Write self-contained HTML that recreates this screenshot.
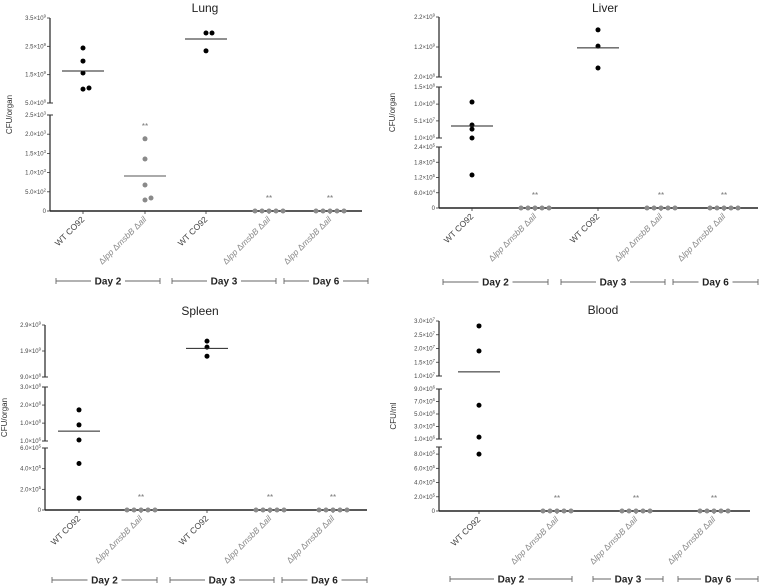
<!DOCTYPE html>
<html><head><meta charset="utf-8">
<style>
html,body{margin:0;padding:0;background:#fff;}
svg{display:block;font-family:"Liberation Sans",sans-serif;}
</style></head>
<body>
<svg id="chart" width="760" height="587" viewBox="0 0 760 587" xmlns="http://www.w3.org/2000/svg"></svg>
<script>
// ---------- DATA ----------
const lungCategories = ["WT CO92","mut","WT CO92","mut","mut"];
const lungValues = [[2.44e9,1.98e9,1.56e9,0.99e9,1.03e9],[1880,1354,677,286,338],[2.97e9,2.97e9,2.34e9],[0,0,0,0,0],[0,0,0,0,0]];
const lungMeans = [1.63e9,911,2.76e9,null,null];
const lungTickLabels = [["3.5×10^9","2.5×10^9","1.5×10^9","5.0×10^8"],["2.5×10^3","2.0×10^3","1.5×10^3","1.0×10^3","5.0×10^2","0"]];
const lungTickValues = [[3.5e9,2.5e9,1.5e9,5e8],[2500,2000,1500,1000,500,0]];

const liverCategories = ["WT CO92","mut","WT CO92","mut","mut"];
const liverValues = [[1.06e8,3.9e7,2.7e7,1.0e6,1.3e5],[0,0,0,0,0],[1.77e9,1.23e9,5.0e8],[0,0,0,0,0],[0,0,0,0,0]];
const liverMeans = [3.6e7,null,1.17e9,null,null];
const liverTickLabels = [["2.2×10^9","1.2×10^9","2.0×10^8"],["1.5×10^8","1.0×10^8","5.1×10^7","1.0×10^6"],["2.4×10^5","1.8×10^5","1.2×10^5","6.0×10^4","0"]];
const liverTickValues = [[2.2e9,1.2e9,2e8],[1.5e8,1.0e8,5.1e7,1e6],[2.4e5,1.8e5,1.2e5,6e4,0]];

const spleenCategories = ["WT CO92","mut","WT CO92","mut","mut"];
const spleenValues = [[1.73e8,9.0e7,6.5e6,4.5e5,1.15e5],[0,0,0,0,0],[2.28e9,2.05e9,1.7e9],[0,0,0,0,0],[0,0,0,0,0]];
const spleenMeans = [5.6e7,null,2.0e9,null,null];
const spleenTickLabels = [["2.9×10^9","1.9×10^9","9.0×10^8"],["3.0×10^8","2.0×10^8","1.0×10^8","1.0×10^6"],["6.0×10^5","4.0×10^5","2.0×10^5","0"]];
const spleenTickValues = [[2.9e9,1.9e9,9e8],[3e8,2e8,1e8,1e6],[6e5,4e5,2e5,0]];

const bloodCategories = ["WT CO92","mut","mut","mut"];
const bloodValues = [[2.82e7,1.91e7,6.4e6,1.3e6,8.0e5],[0,0,0,0,0],[0,0,0,0,0],[0,0,0,0,0]];
const bloodMeans = [1.15e7,null,null,null];
const bloodTickLabels = [["3.0×10^7","2.5×10^7","2.0×10^7","1.5×10^7","1.0×10^7"],["9.0×10^6","7.0×10^6","5.0×10^6","3.0×10^6","1.0×10^6"],["8.0×10^5","6.0×10^5","4.0×10^5","2.0×10^5","0"]];
const bloodTickValues = [[3e7,2.5e7,2e7,1.5e7,1e7],[9e6,7e6,5e6,3e6,1e6],[8e5,6e5,4e5,2e5,0]];

const dayLabels = ["Day 2","Day 3","Day 6"];

// ---------- LAYOUT ----------
const NS="http://www.w3.org/2000/svg";
const svg=document.getElementById('chart');
function mk(tag,attrs,parent){const e=document.createElementNS(NS,tag);for(const k in attrs)e.setAttribute(k,attrs[k]);(parent||svg).appendChild(e);return e;}

const panels=[
 {name:"lung",title:"Lung",titleX:205,titleY:12,ylab:"CFU/organ",ylabX:12,axisX:50,axisEnd:362,
  cats:lungCategories,vals:lungValues,means:lungMeans,tl:lungTickLabels,tv:lungTickValues,
  catX:[83,145,206,269,330],
  segs:[{min:5e8,max:3.5e9,yTop:18,yBot:103},{min:0,max:2500,yTop:115,yBot:211}],
  days:[[56,160],[172,276],[284,368]],dayY:281},
 {name:"liver",title:"Liver",titleX:605,titleY:12,ylab:"CFU/organ",ylabX:395,axisX:439,axisEnd:758,
  cats:liverCategories,vals:liverValues,means:liverMeans,tl:liverTickLabels,tv:liverTickValues,
  catX:[472,535,598,661,724],
  segs:[{min:2e8,max:2.2e9,yTop:17,yBot:77},{min:1e6,max:1.5e8,yTop:87,yBot:138},{min:0,max:2.4e5,yTop:147,yBot:208}],
  days:[[443,548],[561,665],[673,758]],dayY:282},
 {name:"spleen",title:"Spleen",titleX:200,titleY:315,ylab:"CFU/organ",ylabX:7,axisX:45,axisEnd:367,
  cats:spleenCategories,vals:spleenValues,means:spleenMeans,tl:spleenTickLabels,tv:spleenTickValues,
  catX:[79,141,207,270,333],
  segs:[{min:9e8,max:2.9e9,yTop:325,yBot:377},{min:1e6,max:3e8,yTop:387,yBot:441},{min:0,max:6e5,yTop:448,yBot:510}],
  days:[[52,157],[170,274],[282,367]],dayY:580},
 {name:"blood",title:"Blood",titleX:603,titleY:314,ylab:"CFU/ml",ylabX:396,axisX:439,axisEnd:750,
  cats:bloodCategories,vals:bloodValues,means:bloodMeans,tl:bloodTickLabels,tv:bloodTickValues,
  catX:[479,557,636,714],
  segs:[{min:1e7,max:3e7,yTop:321,yBot:376},{min:1e6,max:9e6,yTop:389,yBot:439},{min:0,max:9e5,yTop:447,yBot:511}],
  days:[[450,572],[593,663],[678,758]],dayY:579}
];

function segScale(s,v){return s.yBot-(v-s.min)/(s.max-s.min)*(s.yBot-s.yTop);}
function yOf(p,v){for(const s of p.segs){if(v>=s.min&&v<=s.max)return segScale(s,v);}
  let best=p.segs[0],d=1e99;for(const s of p.segs){const dd=Math.min(Math.abs(v-s.min),Math.abs(v-s.max));if(dd<d){d=dd;best=s;}}
  return segScale(best,Math.max(best.min,Math.min(best.max,v)));}

function tickText(g,x,y,label){
  const t=mk('text',{x:x,y:y+2,'text-anchor':'end','font-size':'6','fill':'#444'},g);
  const parts=label.split('^');
  t.appendChild(document.createTextNode(parts[0]));
  if(parts[1]){const sp=mk('tspan',{'font-size':'4.2',dy:'-2.5'},t);sp.textContent=parts[1];}
}

panels.forEach(p=>{
  const g=mk('g',{});
  
  
  const title=mk('text',{x:p.titleX,y:p.titleY,'text-anchor':'middle','font-size':'12','fill':'#222'},g);
  title.textContent=p.title;
  
  
  const y0=yOf(p,0);
  const yMid=(p.segs[0].yTop+y0)/2;
  const yl=mk('text',{x:p.ylabX,y:yMid,'text-anchor':'middle','font-size':'8','fill':'#333',transform:`rotate(-90 ${p.ylabX} ${yMid})`},g);
  yl.textContent=p.ylab;
  
  
  p.segs.forEach((s,si)=>{
    const a=mk('line',{x1:p.axisX,x2:p.axisX,y1:s.yTop,y2:s.yBot,stroke:'#333','stroke-width':'1.3'},g);
    
    
    if(si<p.segs.length-1) mk('line',{x1:p.axisX-3,x2:p.axisX+3,y1:s.yBot,y2:s.yBot,stroke:'#333','stroke-width':'1'},g);
    if(si>0) mk('line',{x1:p.axisX-3,x2:p.axisX+3,y1:s.yTop,y2:s.yTop,stroke:'#333','stroke-width':'1'},g);
    p.tv[si].forEach((v,ti)=>{
      const y=segScale(s,v);
      mk('line',{x1:p.axisX-3,x2:p.axisX,y1:y,y2:y,stroke:'#333','stroke-width':'0.8'},g);
      tickText(g,p.axisX-4,y,p.tl[si][ti]);
    });
  });
  const xa=mk('line',{x1:p.axisX,x2:p.axisEnd,y1:y0,y2:y0,stroke:'#222','stroke-width':'1.5'},g);
  
  
  p.cats.forEach((c,ci)=>{
    const cx=p.catX[ci];
    const isWT=c!=="mut";
    mk('line',{x1:cx,x2:cx,y1:y0,y2:y0+3,stroke:'#333','stroke-width':'0.8'},g);
    const lx=cx+2,ly=y0+9;
    const lt=mk('text',{x:lx,y:ly,'text-anchor':'end','font-size':'8.5','fill':isWT?'#444':'#888',transform:`rotate(-45 ${lx} ${ly})`},g);
    
    
    if(isWT){lt.textContent=c;}
    else{
      const parts=[["Δ",0],["lpp",1],[" Δ",0],["msbB",1],[" Δ",0],["ail",1]];
      parts.forEach(([s,it])=>{const ts=mk('tspan',it?{'font-style':'italic'}:{},lt);ts.textContent=s;});
    }
    const vals=p.vals[ci];
    const col=isWT?'#000':'#8a8a8a';
    const zeros=vals.filter(v=>v===0).length;
    let zi=0;const placed=[];
    vals.forEach(v=>{
      let x=cx,y=yOf(p,v);
      if(v===0&&zeros>1){x=cx+(zi-(zeros-1)/2)*7;zi++;}
      else{const near=placed.filter(q=>Math.abs(q[1]-y)<=4);if(near.length){x=cx+6;}}
      const d=mk('circle',{cx:x,cy:y,r:2.5,fill:v===0?'#8a8a8a':col},g);
      
      
      placed.push([x,y,d]);
    });
    if(p.means[ci]!=null){
      const my=yOf(p,p.means[ci]);
      const ml=mk('line',{x1:cx-21,x2:cx+21,y1:my,y2:my,stroke:isWT?'#222':'#555','stroke-width':'1'},g);
      
      
    }
    if(!isWT){
      const top=Math.min(...vals.map(v=>yOf(p,v)));
      const st=mk('text',{x:cx,y:top-10,'text-anchor':'middle','font-size':'8','fill':'#777'},g);
      st.textContent='**';
      
      
    }
  });
  p.days.forEach((d,di)=>{
    const [x1,x2]=d,y=p.dayY,mid=(x1+x2)/2,hw=17;
    const b=mk('g',{},g);
    
    
    mk('line',{x1:x1,x2:mid-hw,y1:y,y2:y,stroke:'#666','stroke-width':'0.9'},b);
    mk('line',{x1:mid+hw,x2:x2,y1:y,y2:y,stroke:'#666','stroke-width':'0.9'},b);
    mk('line',{x1:x1,x2:x1,y1:y-3,y2:y+3,stroke:'#666','stroke-width':'0.9'},b);
    mk('line',{x1:x2,x2:x2,y1:y-3,y2:y+3,stroke:'#666','stroke-width':'0.9'},b);
    const t=mk('text',{x:mid,y:y+3.5,'text-anchor':'middle','font-size':'10','fill':'#222','font-weight':'bold'},b);
    t.textContent=dayLabels[di];
  });
});
</script>
</body></html>
